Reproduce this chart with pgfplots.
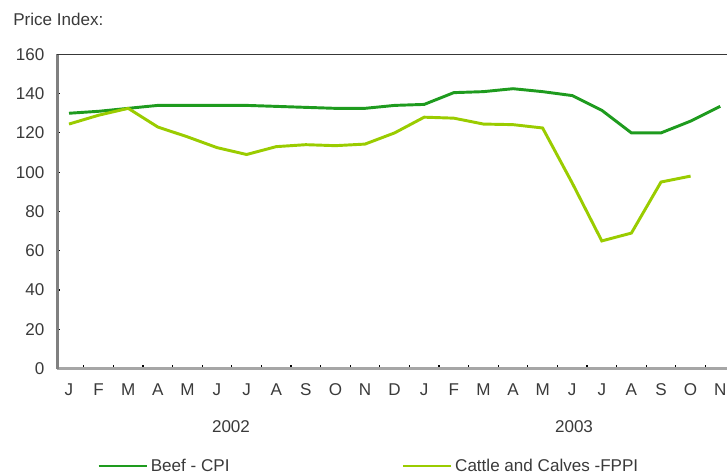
\documentclass[border=0pt]{standalone}
\usepackage{fontspec}
\setmainfont{Liberation Sans}
\usepackage{pgfplots}
\pgfplotsset{compat=1.18}
\definecolor{beef}{HTML}{1E9B1E}
\definecolor{cattle}{HTML}{9ACC00}
\definecolor{txt}{HTML}{3A3A3A}
\begin{document}
\begin{tikzpicture}[x=0.75pt,y=0.75pt]
\useasboundingbox (0,0) rectangle (727,474);
\clip (0,0) rectangle (727,474);
\begin{axis}[
  at={(42.87pt,79.05pt)}, anchor=south west,
  scale only axis, width=502.83pt, height=235.7pt,
  xmin=-0.4, xmax=22.25, ymin=0, ymax=160,
  axis x line*=bottom, axis y line*=left,
  x axis line style={draw=gray!70, line width=2.2pt},
  y axis line style={draw=gray, line width=2.2pt},
  tick align=inside,
  /pgf/number format/assume math mode=true,
  xtick={0,...,22},
  xticklabels={J,F,M,A,M,J,J,A,S,O,N,D,J,F,M,A,M,J,J,A,S,O,N},
  major x tick style={draw=none},
  minor xtick={0.5,1.5,...,21.5},
  minor tick length=2.5pt,
  minor x tick style={black, line width=0.9pt},
  ytick={0,20,...,160},
  major tick length=2.5pt,
  ytick style={black, line width=0.9pt},
  tick label style={font=\fontsize{12.8}{14}\selectfont, text=txt},
  xticklabel style={yshift=-8pt},
  yticklabel style={xshift=-6pt},
  legend columns=2,
  legend image code/.code={\draw[#1] (0pt,0pt) -- (36pt,0pt);},
  legend style={draw=none, fill=none, at={(0.0594,-0.31)}, anchor=west,
    inner sep=0pt, font=\fontsize{12.8}{14}\selectfont, text=txt,
    /tikz/every even column/.append style={column sep=127pt}},
  legend cell align=left,
]
\addplot[beef, line width=2.2pt] coordinates {
(0,130) (1,131) (2,132.5) (3,134) (4,134) (5,134) (6,134) (7,133.5) (8,133) (9,132.5) (10,132.5) (11,134)
(12,134.5) (13,140.5) (14,141) (15,142.5) (16,141) (17,139) (18,131.5) (19,120) (20,120) (21,126) (22,133.5)};
\addlegendentry{Beef - CPI}
\addplot[cattle, line width=2.2pt] coordinates {
(0,124.5) (1,129) (2,132.5) (3,123) (4,118) (5,112.5) (6,109) (7,113) (8,114) (9,113.5) (10,114.3) (11,120)
(12,128) (13,127.5) (14,124.5) (15,124.2) (16,122.5) (17,94.5) (18,65) (19,69) (20,95) (21,98)};
\addlegendentry{Cattle and Calves -FPPI}
\draw[color=black!78, line width=1.7pt] (rel axis cs:0,1) -- (rel axis cs:1,1);
\end{axis}
\node[text=txt, font=\fontsize{12.8}{14}\selectfont] at (231,47) {2002};
\node[text=txt, font=\fontsize{12.8}{14}\selectfont] at (574,47) {2003};
\node[text=txt, font=\fontsize{12.8}{14}\selectfont, anchor=west, inner sep=0pt] at (13,455) {Price Index:};
\end{tikzpicture}
\end{document}
